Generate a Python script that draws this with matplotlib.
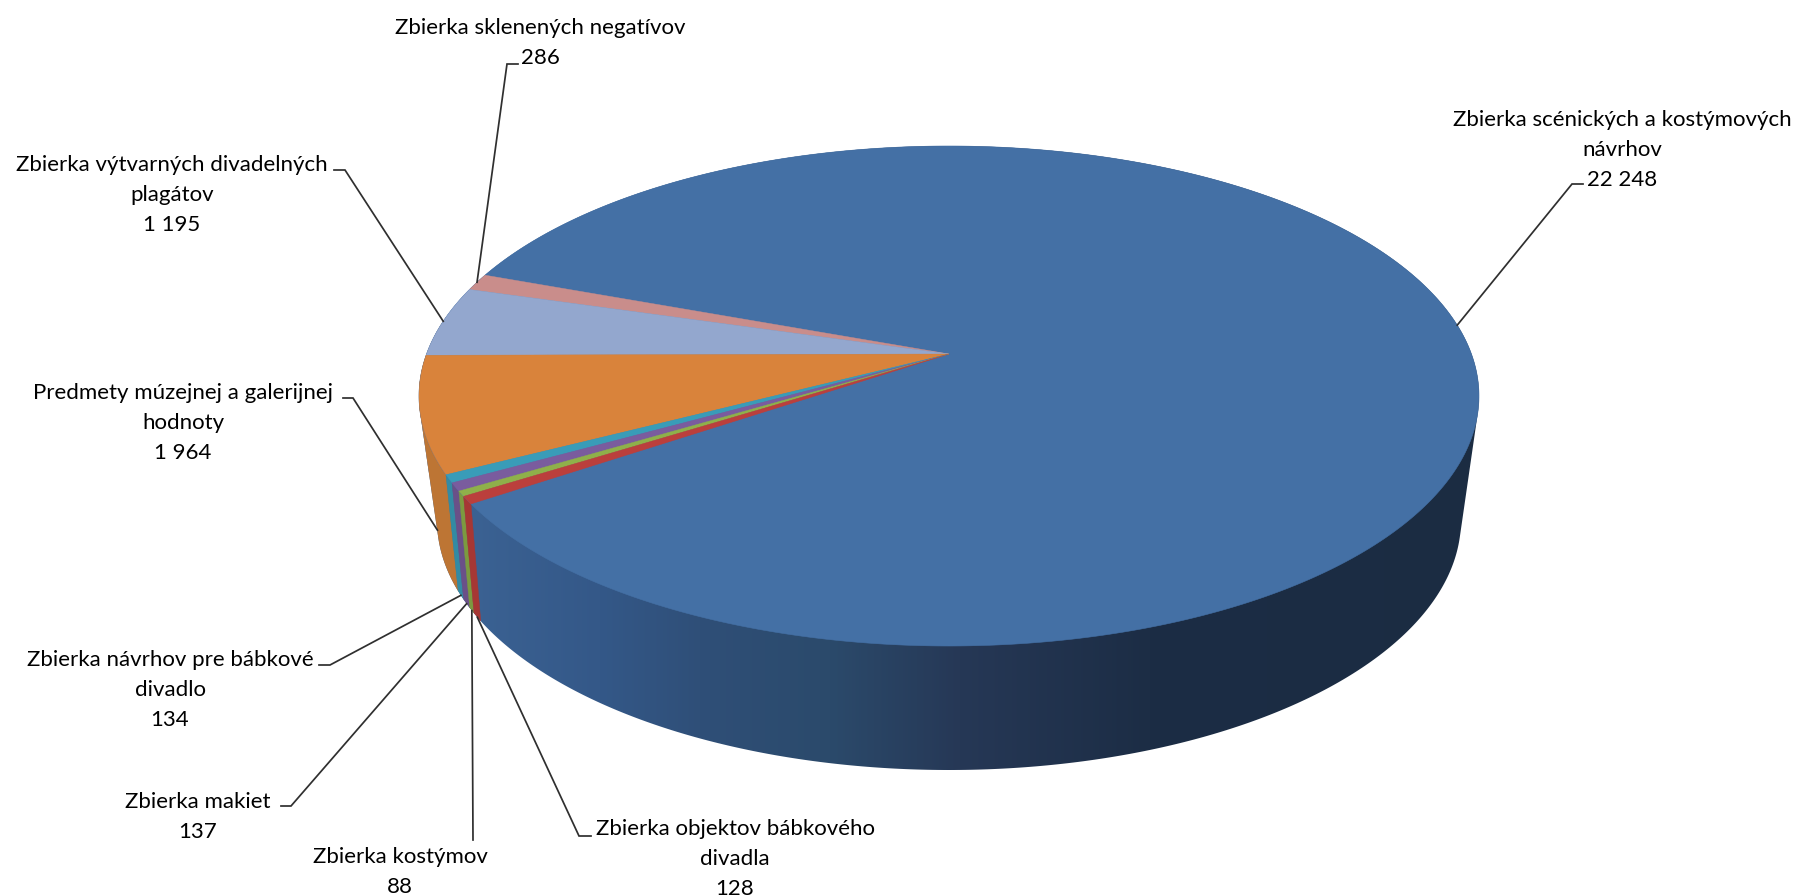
import numpy as np
import matplotlib
matplotlib.use("Agg")
import matplotlib.pyplot as plt
from matplotlib.patches import Polygon
from matplotlib.colors import to_rgb

plt.rcParams['font.family'] = ['Lato', 'DejaVu Sans']

categories = [
    "Zbierka scénických a kostýmových\nnávrhov",
    "Zbierka sklenených negatívov",
    "Zbierka výtvarných divadelných\nplagátov",
    "Predmety múzejnej a galerijnej\nhodnoty",
    "Zbierka návrhov pre bábkové\ndivadlo",
    "Zbierka makiet",
    "Zbierka kostýmov",
    "Zbierka objektov bábkového\ndivadla",
]
values = [22248, 286, 1195, 1964, 134, 137, 88, 128]
top_colors = ["#4470A5", "#C98D8B", "#93A7CE", "#D9833B", "#399CB8", "#7A5C9E", "#8FB04A", "#BB3F3C"]
wall_colors = [None, "#A87573", "#7B8CAD", "#BD7534", "#338BA3", "#6A5088", "#7C9A40", "#A63734"]
label_centers = [(1622, 150), (540, 43), (172, 195), (183, 423), (170, 690), (198, 817), (400, 872), (735, 859)]
label_hooks = [
    [(1583, 184), (1572, 184)],
    [(518, 64), (507, 64)],
    [(334, 170), (345, 170)],
    [(343, 398), (353, 398)],
    [(319, 665), (330, 665)],
    [(281, 806), (291, 806)],
    [(473, 840)],
    [(591, 836), (579, 836)],
]
anchor_on_wall = [False, False, False, True, True, True, True, True]

START = -146.0
TOP = dict(cx=949.0, cy=396.0, rx=530.0, ry=250.0, e=0.168)
BOT = dict(cx=949.0, cy=520.0, rx=512.0, ry=250.0, e=0.200)
wall_stops_x = [470, 600, 700, 830, 960, 1150, 1500]
wall_stops_c = ["#3B6293", "#345888", "#2F4F78", "#2B4A6B", "#263856", "#1C2D45", "#1B2C42"]


def pt(theta, g):
    t = np.radians(theta)
    u, v = np.cos(t), np.sin(t)
    d = 1 + g['e'] * v
    U = u * np.sqrt(1 - g['e'] ** 2) / d
    V = (v + g['e']) / d
    return np.column_stack([g['cx'] + g['rx'] * U, g['cy'] - g['ry'] * V])


def arc(a, b, g, n=200):
    return pt(np.linspace(a, b, n), g)


def hull(points):
    pts = sorted(map(tuple, points))
    def half(seq):
        h = []
        for p in seq:
            while len(h) > 1 and ((h[-1][0]-h[-2][0])*(p[1]-h[-2][1]) - (h[-1][1]-h[-2][1])*(p[0]-h[-2][0])) <= 0:
                h.pop()
            h.append(p)
        return h[:-1]
    return np.array(half(pts) + half(pts[::-1]))


fig = plt.figure(figsize=(17.98, 8.96), dpi=100, facecolor='white')
ax = fig.add_axes([0, 0, 1, 1])

angles = START + np.cumsum([0] + values) * 360.0 / sum(values)
mids = (angles[:-1] + angles[1:]) / 2

full = np.linspace(0, 360, 721)
body = hull(np.vstack([pt(full, TOP), pt(full, BOT)]))
body_patch = Polygon(body, closed=True, transform=ax.transData, facecolor='none', edgecolor='none')
ax.add_patch(body_patch)

# body of the pie, shaded left to right
xs = np.arange(0, 1798)
rgb = np.array([to_rgb(c) for c in wall_stops_c])
grad = np.stack([np.interp(xs, wall_stops_x, rgb[:, i]) for i in range(3)], axis=-1)[None, :, :]
im = ax.imshow(grad, extent=(0, 1798, 896, 0), aspect='auto', zorder=1, interpolation='bilinear')
im.set_clip_path(body_patch)

# walls of the small slices at the front-left
for i in range(1, len(values)):
    a, b = angles[i], angles[i + 1]
    if b <= 180:
        continue
    if a <= 185:
        t, w = pt(b, TOP)[0], pt(b, BOT)[0]
        poly = np.array([t, w, (0, w[1]), (0, t[1] - 200), (t[0], t[1] - 200)])
    else:
        poly = np.vstack([arc(a, b, TOP, 20), arc(b, a, BOT, 20)])
    p = Polygon(poly, closed=True, facecolor=wall_colors[i], edgecolor=wall_colors[i], lw=0.3, zorder=2)
    ax.add_patch(p)
    p.set_clip_path(body_patch)

# top face
ax.add_patch(Polygon(pt(full, TOP), closed=True, facecolor=top_colors[0], edgecolor=top_colors[0], lw=0.4, zorder=3))
apex = np.array([[TOP['cx'], TOP['cy'] - TOP['ry'] * TOP['e']]])
for i in range(1, len(values)):
    poly = np.vstack([apex, arc(angles[i], angles[i + 1], TOP, 80)])
    ax.add_patch(Polygon(poly, closed=True, facecolor=top_colors[i], edgecolor=top_colors[i], lw=0.3, zorder=4))

# leader lines and labels
for i, name in enumerate(categories):
    anchor = pt(mids[i], BOT if anchor_on_wall[i] else TOP)[0]
    line = np.array(label_hooks[i] + [tuple(anchor)])
    ax.plot(line[:, 0], line[:, 1], color='#2f2f2f', lw=1.25, solid_joinstyle='miter', zorder=5)
    val = f"{values[i]:,}".replace(",", " ")
    ax.text(label_centers[i][0], label_centers[i][1], f"{name}\n{val}", ha='center', va='center',
            multialignment='center', fontsize=16, linespacing=1.6, color='#000000', zorder=6)

ax.set_xlim(0, 1798)
ax.set_ylim(896, 0)
ax.axis('off')
fig.savefig('out.png', dpi=100, facecolor='white')
